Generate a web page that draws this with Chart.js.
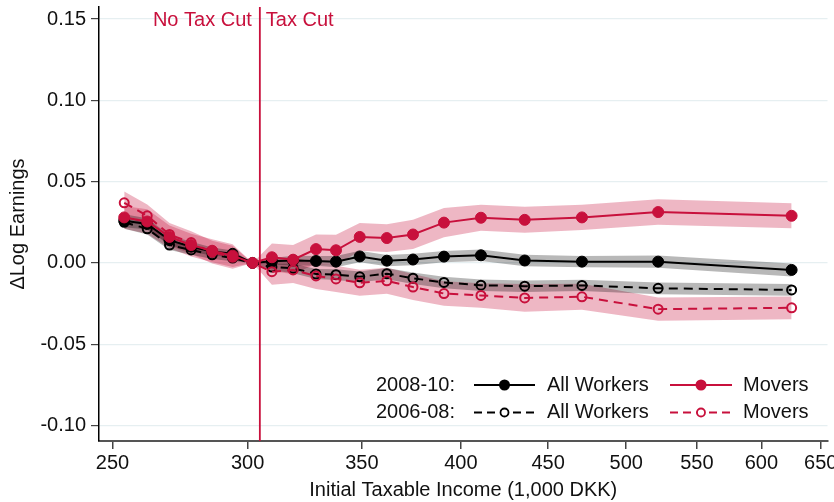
<!DOCTYPE html>
<html>
<head>
<meta charset="utf-8">
<script src="https://cdn.jsdelivr.net/npm/chart.js@4"></script>
<style>
  html, body { margin: 0; padding: 0; background: #fff; }
  #wrap { width: 834px; height: 502px; }
</style>
</head>
<body>
<div id="wrap"><canvas id="c" width="834" height="502"></canvas></div>
<script>
// ---- data ----
const incomeBins = [254, 262, 270, 278, 286, 294, 302, 310, 319, 329, 338, 349, 362, 375, 391, 411, 436, 471, 522, 625];
const allWorkers0810 = [0.026, 0.024, 0.014, 0.010, 0.007, 0.0056, 0, 0.001, 0.0015, 0.0012, 0.0008, 0.0040, 0.0014, 0.0021, 0.0039, 0.0047, 0.0015, 0.0008, 0.0008, -0.0043];
const movers0810 = [0.028, 0.0255, 0.016, 0.011, 0.0075, 0.0045, 0, 0.0035, 0.002, 0.0085, 0.0078, 0.016, 0.0153, 0.0175, 0.0248, 0.0278, 0.0265, 0.028, 0.0313, 0.029];
const allWorkers0608 = [0.025, 0.021, 0.011, 0.008, 0.005, 0.003, 0, -0.0025, -0.0033, -0.0068, -0.0072, -0.0085, -0.0066, -0.0094, -0.012, -0.0137, -0.0143, -0.0138, -0.0156, -0.0166];
const movers0608 = [0.037, 0.029, 0.0175, 0.0125, 0.0066, 0.0035, 0, -0.0054, -0.0043, -0.0080, -0.0098, -0.0122, -0.011, -0.0148, -0.0188, -0.020, -0.0215, -0.0208, -0.0284, -0.0276];
const ciAllWorkers0810 = [0.004, 0.0035, 0.003, 0.003, 0.0025, 0.002, 0, 0.002, 0.003, 0.003, 0.0035, 0.0035, 0.0035, 0.0035, 0.0035, 0.0035, 0.0035, 0.0035, 0.0038, 0.004];
const ciMovers0810 = [0.007, 0.0075, 0.007, 0.007, 0.007, 0.007, 0, 0.0085, 0.009, 0.009, 0.0095, 0.0085, 0.0085, 0.009, 0.009, 0.008, 0.008, 0.0078, 0.0078, 0.0077];
const ciAllWorkers0608 = [0.004, 0.0035, 0.003, 0.003, 0.0025, 0.002, 0, 0.002, 0.003, 0.003, 0.0033, 0.0033, 0.0035, 0.0035, 0.0035, 0.0035, 0.0035, 0.0035, 0.0036, 0.0036];
const ciMovers0608 = [0.007, 0.007, 0.007, 0.007, 0.007, 0.007, 0, 0.008, 0.008, 0.008, 0.008, 0.008, 0.008, 0.008, 0.0075, 0.0075, 0.0085, 0.008, 0.0072, 0.007];
const xTicks = [250, 300, 350, 400, 450, 500, 550, 600, 650];
const yTicks = [-0.10, -0.05, 0.00, 0.05, 0.10, 0.15];
const taxCutThreshold = 305;
const xTitle = 'Initial Taxable Income (1,000 DKK)';
const yTitle = '\u0394Log Earnings';
const leftLabel = 'No Tax Cut';
const rightLabel = 'Tax Cut';

// ---- styles ----
const RED = '#c8103c';
const RED_BAND = 'rgba(200,16,60,0.30)';
const GRAY_BAND = 'rgba(0,0,0,0.28)';
const FONT = "'Liberation Sans', Arial, Helvetica, sans-serif";

const pts = (ys) => incomeBins.map((x, i) => ({ x, y: ys[i] }));
const band = (ys, ci, sign) => incomeBins.map((x, i) => ({ x, y: ys[i] + sign * ci[i] }));

function bandPair(ys, ci, color) {
  return [
    { data: band(ys, ci, -1), borderWidth: 0, pointRadius: 0, fill: false, borderColor: 'rgba(0,0,0,0)' },
    { data: band(ys, ci, 1), borderWidth: 0, pointRadius: 0, fill: '-1', backgroundColor: color, borderColor: 'rgba(0,0,0,0)' }
  ];
}

const datasets = [
  { label: 'Movers 2008-10', data: pts(movers0810), borderColor: RED, backgroundColor: RED, borderWidth: 2,
    pointRadius: 5.5, pointBackgroundColor: RED, pointBorderColor: RED, pointBorderWidth: 1, fill: false },
  { label: 'Movers 2006-08', data: pts(movers0608), borderColor: RED, borderWidth: 2, borderDash: [9, 6],
    pointRadius: 4.5, pointBackgroundColor: 'rgba(255,255,255,0)', pointBorderColor: RED, pointBorderWidth: 2, fill: false },
  { label: 'All Workers 2008-10', data: pts(allWorkers0810), borderColor: '#000', backgroundColor: '#000', borderWidth: 2,
    pointRadius: 5.5, pointBackgroundColor: '#000', pointBorderColor: '#000', pointBorderWidth: 1, fill: false },
  { label: 'All Workers 2006-08', data: pts(allWorkers0608), borderColor: '#000', borderWidth: 2, borderDash: [9, 6],
    pointRadius: 4.5, pointBackgroundColor: 'rgba(255,255,255,0)', pointBorderColor: '#000', pointBorderWidth: 2, fill: false },
  ...bandPair(allWorkers0810, ciAllWorkers0810, GRAY_BAND),
  ...bandPair(allWorkers0608, ciAllWorkers0608, GRAY_BAND),
  ...bandPair(movers0810, ciMovers0810, RED_BAND),
  ...bandPair(movers0608, ciMovers0608, RED_BAND)
];

const overlay = {
  id: 'overlay',
  afterDatasetsDraw(chart) {
    const { ctx, chartArea, scales } = chart;
    const xp = scales.x.getPixelForValue(taxCutThreshold);
    ctx.save();
    ctx.strokeStyle = RED;
    ctx.lineWidth = 1.8;
    ctx.beginPath();
    ctx.moveTo(xp, chartArea.top);
    ctx.lineTo(xp, chartArea.bottom);
    ctx.stroke();
    ctx.fillStyle = RED;
    ctx.font = '20px ' + FONT;
    ctx.textBaseline = 'middle';
    ctx.textAlign = 'right';
    ctx.fillText(leftLabel, xp - 8, chartArea.top + 13);
    ctx.textAlign = 'left';
    ctx.fillText(rightLabel, xp + 6, chartArea.top + 13);
    ctx.restore();
  },
  afterDraw(chart) {
    const { ctx } = chart;
    ctx.save();
    ctx.font = '20px ' + FONT;
    ctx.textBaseline = 'middle';
    ctx.textAlign = 'left';
    const rows = [
      { y: 385, label: '2008-10:', dash: [], filled: true },
      { y: 412.5, label: '2006-08:', dash: [8, 5], filled: false }
    ];
    rows.forEach(r => {
      ctx.fillStyle = '#111';
      ctx.fillText(r.label, 376, r.y);
      [[474, 535, '#000', 'All Workers', 547], [670, 732, RED, 'Movers', 743]].forEach(([x0, x1, col, txt, tx]) => {
        ctx.strokeStyle = col;
        ctx.lineWidth = 2;
        ctx.setLineDash(r.dash);
        ctx.beginPath();
        ctx.moveTo(x0, r.y);
        ctx.lineTo(x1, r.y);
        ctx.stroke();
        ctx.setLineDash([]);
        const cx = (x0 + x1) / 2;
        ctx.beginPath();
        if (r.filled) {
          ctx.arc(cx, r.y, 5.5, 0, Math.PI * 2);
          ctx.fillStyle = col;
          ctx.fill();
        } else {
          ctx.arc(cx, r.y, 4, 0, Math.PI * 2);
          ctx.fillStyle = '#fff';
          ctx.fill();
          ctx.lineWidth = 1.8;
          ctx.stroke();
        }
        ctx.fillStyle = '#111';
        ctx.fillText(txt, tx, r.y);
      });
    });
    ctx.restore();
  }
};

new Chart(document.getElementById('c'), {
  type: 'line',
  data: { datasets },
  plugins: [overlay],
  options: {
    responsive: false,
    animation: false,
    parsing: true,
    layout: { padding: { top: 7, right: 0, left: 0, bottom: 0 } },
    plugins: { legend: { display: false }, tooltip: { enabled: false } },
    elements: { line: { tension: 0 } },
    scales: {
      x: {
        type: 'logarithmic',
        min: 245.5,
        max: 656,
        afterBuildTicks: (s) => { s.ticks = xTicks.map(v => ({ value: v })); },
        afterFit: (s) => { s.height = 61; s.paddingLeft = 0; s.paddingRight = 0; },
        ticks: { callback: (v) => String(v), color: '#111', font: { family: FONT, size: 20 }, padding: 2, maxRotation: 0, autoSkip: false },
        grid: { display: true, drawOnChartArea: false, drawTicks: true, tickLength: 8, color: '#444', lineWidth: 1.5 },
        border: { display: true, color: '#555', width: 2 },
        title: { display: true, text: xTitle, color: '#111', font: { family: FONT, size: 20 }, padding: { top: 0, bottom: 0 } }
      },
      y: {
        type: 'linear',
        min: -0.1095,
        max: 0.1574,
        afterBuildTicks: (s) => { s.ticks = yTicks.map(v => ({ value: v })); },
        afterFit: (s) => { s.width = 99; s.paddingTop = 0; s.paddingBottom = 0; },
        ticks: { callback: (v) => Number(v).toFixed(2), color: '#111', font: { family: FONT, size: 20 }, padding: 5 },
        grid: { display: true, drawOnChartArea: true, drawTicks: true, tickLength: 8, color: '#e6eff1', lineWidth: 1.2, tickColor: '#444' },
        border: { display: true, color: '#000', width: 1.5 },
        title: { display: true, text: yTitle, color: '#111', font: { family: FONT, size: 20 }, padding: { top: 6, bottom: 4 } }
      }
    }
  }
});
</script>
</body>
</html>
